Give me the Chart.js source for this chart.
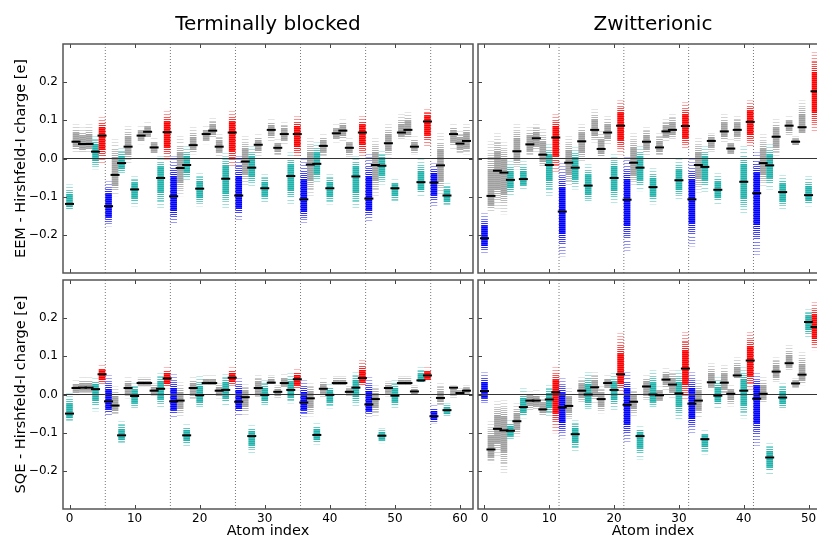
<!DOCTYPE html>
<html lang="en">
<head>
<meta charset="utf-8">
<title>EEM / SQE vs Hirshfeld-I charges</title>
<script src="https://cdn.jsdelivr.net/npm/chart.js@4.4.0/dist/chart.umd.min.js"></script>
<style>
html, body { margin:0; padding:0; background:#fff; overflow:hidden; }
#fig { position:relative; width:817px; height:540px; overflow:hidden; }
#fig canvas { position:absolute; }
</style>
</head>
<body>
<div id="fig">
	<canvas id="eemTb" width="474" height="274" style="left:0;top:0"></canvas>
	<canvas id="sqeTb" width="474" height="264" style="left:0;top:276px"></canvas>
	<canvas id="eemZw" width="352" height="274" style="left:477px;top:0"></canvas>
	<canvas id="sqeZw" width="352" height="264" style="left:477px;top:276px"></canvas>
</div>
<script>
// atom type per index: G = grey, T = teal, R = red, B = blue
var tbTypes = 'TGGGTRBGTGTGGGTRBGTGTGGGTRBGTGTGGGTRBGTGTGGGTRBGTGTGGGTRBGTGGG'.split('');
var zwTypes = 'BGGGTGTGGGTRBGTGTGGGTRBGTGTGGGTRBGTGTGGGTRBGTGTGGGTR'.split('');

var tbTicks = [0, 10, 20, 30, 40, 50, 60];
var zwTicks = [0, 10, 20, 30, 40, 50];
var yTicks = [-0.2, -0.1, 0.0, 0.1, 0.2];
var tbDividers = [5.5, 15.5, 25.5, 35.5, 45.5, 55.5];
var zwDividers = [11.5, 21.5, 31.5, 41.5];

// Terminally blocked, EEM
var eemTbMean = [-0.119, 0.044, 0.038, 0.038, 0.018, 0.060, -0.125, -0.043, -0.012, 0.031,
	-0.081, 0.060, 0.070, 0.029, -0.051, 0.069, -0.099, -0.025, -0.017, 0.035,
	-0.079, 0.064, 0.073, 0.031, -0.053, 0.068, -0.097, -0.008, -0.024, 0.036,
	-0.078, 0.075, 0.028, 0.064, -0.046, 0.064, -0.107, -0.016, -0.014, 0.033,
	-0.078, 0.066, 0.073, 0.028, -0.047, 0.068, -0.105, -0.017, -0.019, 0.040,
	-0.078, 0.068, 0.075, 0.031, -0.062, 0.097, -0.063, -0.018, -0.097, 0.064,
	0.039, 0.046];
var eemTbHi = [-0.068, 0.090, 0.082, 0.090, 0.060, 0.110, -0.059, 0.050, 0.027, 0.086,
	-0.046, 0.086, 0.095, 0.055, 0.007, 0.125, 0.007, 0.060, 0.033, 0.082,
	-0.037, 0.086, 0.107, 0.064, 0.014, 0.125, 0.007, 0.060, 0.033, 0.064,
	-0.041, 0.104, 0.051, 0.095, 0.016, 0.112, -0.002, 0.055, 0.042, 0.064,
	-0.041, 0.090, 0.104, 0.055, 0.007, 0.112, 0.011, 0.055, 0.020, 0.090,
	-0.054, 0.117, 0.121, 0.060, -0.002, 0.130, -0.011, 0.068, -0.063, 0.090,
	0.073, 0.090];
var eemTbLo = [-0.136, 0.016, 0.014, 0.016, -0.028, -0.015, -0.177, -0.098, -0.041, -0.011,
	-0.125, 0.038, 0.051, 0.007, -0.129, -0.006, -0.173, -0.098, -0.059, 0.011,
	-0.125, 0.038, 0.055, 0.007, -0.129, -0.024, -0.160, -0.072, -0.072, 0.007,
	-0.116, 0.046, 0.007, 0.038, -0.120, -0.002, -0.168, -0.098, -0.063, 0.003,
	-0.120, 0.042, 0.046, 0.003, -0.133, 0.003, -0.164, -0.098, -0.068, 0.003,
	-0.116, 0.051, 0.051, 0.011, -0.098, 0.029, -0.125, -0.098, -0.125, 0.025,
	0.011, 0.011];

// Terminally blocked, SQE
var sqeTbMean = [-0.050, 0.017, 0.018, 0.018, 0.014, 0.053, -0.018, -0.029, -0.107, 0.017,
	-0.004, 0.030, 0.030, 0.010, 0.015, 0.042, -0.018, -0.016, -0.107, 0.017,
	-0.002, 0.030, 0.030, 0.010, 0.012, 0.044, -0.019, -0.007, -0.109, 0.017,
	-0.001, 0.031, 0.007, 0.030, 0.012, 0.040, -0.021, -0.010, -0.106, 0.015,
	-0.001, 0.030, 0.030, 0.007, 0.018, 0.043, -0.026, -0.012, -0.108, 0.017,
	-0.003, 0.030, 0.030, 0.008, 0.037, 0.050, -0.057, -0.009, -0.041, 0.018,
	0.004, 0.010];
var sqeTbHi = [0.005, 0.038, 0.045, 0.045, 0.043, 0.077, 0.051, 0.021, -0.070, 0.047,
	0.030, 0.045, 0.045, 0.030, 0.057, 0.073, 0.054, 0.034, -0.077, 0.047,
	0.049, 0.051, 0.051, 0.030, 0.054, 0.073, 0.043, 0.027, -0.079, 0.051,
	0.038, 0.051, 0.025, 0.054, 0.056, 0.066, 0.038, 0.030, -0.075, 0.043,
	0.028, 0.049, 0.049, 0.023, 0.060, 0.090, 0.047, 0.025, -0.088, 0.036,
	0.038, 0.049, 0.049, 0.025, 0.073, 0.073, -0.027, 0.030, -0.023, 0.025,
	0.017, 0.025];
var sqeTbLo = [-0.070, -0.001, 0.003, 0.003, -0.044, 0.025, -0.057, -0.053, -0.127, -0.010,
	-0.038, 0.021, 0.021, -0.005, -0.036, 0.017, -0.059, -0.057, -0.136, -0.014,
	-0.036, 0.025, 0.025, -0.010, -0.030, 0.021, -0.053, -0.057, -0.153, -0.010,
	-0.031, 0.025, -0.010, 0.017, -0.023, 0.012, -0.057, -0.057, -0.131, -0.010,
	-0.036, 0.023, 0.023, -0.005, -0.030, 0.021, -0.057, -0.057, -0.127, -0.005,
	-0.036, 0.021, 0.021, -0.001, 0.030, 0.034, -0.075, -0.031, -0.056, -0.010,
	-0.001, 0.002];

// Zwitterionic, EEM
var eemZwMean = [-0.209, -0.098, -0.032, -0.037, -0.056, 0.019, -0.054, 0.037, 0.053, 0.010,
	-0.017, 0.055, -0.139, -0.011, -0.024, 0.045, -0.071, 0.075, 0.025, 0.068,
	-0.051, 0.086, -0.108, -0.011, -0.024, 0.044, -0.075, 0.029, 0.071, 0.075,
	-0.057, 0.085, -0.107, -0.017, -0.022, 0.046, -0.082, 0.071, 0.026, 0.075,
	-0.061, 0.096, -0.091, -0.012, -0.018, 0.057, -0.088, 0.086, 0.044, 0.082,
	-0.096, 0.176];
var eemZwHi = [-0.142, 0.046, 0.068, 0.042, -0.006, 0.090, -0.006, 0.082, 0.090, 0.077,
	0.038, 0.117, -0.011, 0.060, 0.029, 0.090, -0.015, 0.130, 0.073, 0.112,
	0.011, 0.152, 0.003, 0.068, 0.033, 0.082, -0.024, 0.068, 0.104, 0.117,
	0.000, 0.147, -0.002, 0.055, 0.033, 0.068, -0.037, 0.117, 0.051, 0.112,
	0.033, 0.152, 0.016, 0.064, 0.038, 0.104, -0.044, 0.112, 0.060, 0.152,
	-0.046, 0.279];
var eemZwLo = [-0.247, -0.142, -0.133, -0.146, -0.098, -0.028, -0.081, 0.007, 0.016, -0.024,
	-0.098, -0.037, -0.256, -0.072, -0.081, -0.011, -0.116, 0.042, -0.002, 0.038,
	-0.116, 0.011, -0.243, -0.072, -0.085, 0.007, -0.120, 0.007, 0.046, 0.051,
	-0.107, 0.025, -0.230, -0.089, -0.089, 0.016, -0.120, 0.042, 0.007, 0.046,
	-0.146, 0.029, -0.252, -0.072, -0.081, 0.007, -0.133, 0.060, 0.029, 0.060,
	-0.125, 0.068];

// Zwitterionic, SQE
var sqeZwMean = [0.009, -0.144, -0.090, -0.094, -0.095, -0.070, -0.033, -0.016, -0.016, -0.039,
	-0.013, 0.006, -0.034, -0.030, -0.104, 0.010, 0.000, 0.019, -0.012, 0.030,
	0.012, 0.053, -0.027, -0.019, -0.109, 0.021, 0.000, -0.002, 0.039, 0.026,
	0.003, 0.068, -0.024, -0.016, -0.117, 0.032, -0.003, 0.031, 0.002, 0.050,
	0.010, 0.089, -0.011, 0.002, -0.165, 0.060, -0.008, 0.082, 0.029, 0.052,
	0.190, 0.177];
var sqeZwHi = [0.060, -0.070, -0.018, -0.014, -0.066, -0.023, 0.017, 0.008, 0.012, -0.005,
	0.025, 0.073, 0.043, 0.017, -0.066, 0.047, 0.060, 0.060, 0.021, 0.051,
	0.056, 0.160, 0.060, 0.017, -0.083, 0.051, 0.064, 0.021, 0.069, 0.064,
	0.064, 0.164, 0.060, 0.038, -0.092, 0.082, 0.047, 0.077, 0.025, 0.097,
	0.073, 0.164, 0.056, 0.047, -0.127, 0.097, 0.030, 0.130, 0.043, 0.112,
	0.225, 0.243];
var sqeZwLo = [-0.023, -0.179, -0.162, -0.205, -0.118, -0.110, -0.062, -0.044, -0.040, -0.057,
	-0.057, -0.101, -0.114, -0.066, -0.149, -0.023, -0.040, -0.023, -0.049, 0.012,
	-0.040, 0.003, -0.127, -0.057, -0.170, -0.018, -0.036, -0.023, 0.012, -0.010,
	-0.066, -0.014, -0.101, -0.062, -0.157, 0.012, -0.036, -0.001, -0.031, 0.038,
	-0.062, 0.012, -0.136, -0.023, -0.210, 0.034, -0.040, 0.064, 0.017, 0.025,
	0.147, 0.117];

Chart.defaults.font.family = "'DejaVu Sans', sans-serif";
Chart.defaults.color = '#000';

var atomRgb = { G: '135,135,135', T: '32,178,170', R: '255,0,0', B: '0,0,255' };
var atomAlpha = { G: 0.8, T: 1, R: 1, B: 1 };

// striped fill for one atom: dense around the mean, thinner dashes in the tails
function cloudFill(c, p) {
	var chart = c.chart, i = c.dataIndex;
	var ys = chart.scales.y;
	if (!ys || i === undefined || c.type !== 'data') return 'rgba(0,0,0,0)';
	var t = p.types[i];
	var top = Math.round(ys.getPixelForValue(p.hi[i]));
	var bot = Math.round(ys.getPixelForValue(p.lo[i]));
	var mid = ys.getPixelForValue(p.mean[i]);
	var cv = document.createElement('canvas');
	cv.width = 1;
	cv.height = chart.height;
	var g = cv.getContext('2d');
	for (var y = top; y <= bot; y++) {
		var d = y < mid ? (mid - y) / Math.max(mid - top, 1) : (y - mid) / Math.max(bot - mid, 1);
		var k = y - top;
		var a;
		if (d < 0.5) {
			a = atomAlpha[t] * (k % 2 ? 0.8 : 1);
		} else if (d < 0.75) {
			if (k % 2) continue;
			a = atomAlpha[t] * (0.95 - (d - 0.5) * 1.4);
		} else {
			if (k % 3) continue;
			a = atomAlpha[t] * Math.max(0.25, 0.55 - (d - 0.75) * 1.1);
		}
		g.fillStyle = 'rgba(' + atomRgb[t] + ',' + a.toFixed(3) + ')';
		g.fillRect(0, y, 1, 1);
	}
	return chart.ctx.createPattern(cv, 'repeat');
}

// box round the axes with inward ticks on all four sides
var framePlugin = {
	id: 'frame',
	afterDatasetsDraw: function (chart, args, opts) {
		var ctx = chart.ctx, a = chart.chartArea, x = chart.scales.x, y = chart.scales.y;
		ctx.save();
		ctx.strokeStyle = '#444';
		ctx.lineWidth = 1;
		ctx.beginPath();
		opts.xTicks.forEach(function (v) {
			var px = Math.round(x.getPixelForValue(v)) + 0.5;
			ctx.moveTo(px, a.bottom); ctx.lineTo(px, a.bottom - 4);
			ctx.moveTo(px, a.top); ctx.lineTo(px, a.top + 4);
		});
		opts.yTicks.forEach(function (v) {
			var py = Math.round(y.getPixelForValue(v)) + 0.5;
			ctx.moveTo(a.left, py); ctx.lineTo(a.left + 4, py);
			ctx.moveTo(a.right, py); ctx.lineTo(a.right - 4, py);
		});
		ctx.stroke();
		ctx.strokeStyle = '#555';
		ctx.lineWidth = 1.5;
		ctx.strokeRect(a.left, a.top, a.width, a.height);
		ctx.restore();
	}
};

function fmtY(v) {
	return (v < 0 ? '\u2212' : '') + Math.abs(v).toFixed(1);
}

// keep the plot box where the layout padding puts it
function noScalePadding(s) {
	s.paddingTop = 0;
	s.paddingBottom = 0;
	s.paddingLeft = 0;
	s.paddingRight = 0;
}

function makePanel(id, p) {
	var datasets = [];
	datasets.push({
		type: 'scatter',
		data: p.mean.map(function (m, i) { return { x: i, y: m }; }),
		pointStyle: 'line',
		pointRadius: 4.5,
		pointHoverRadius: 4.5,
		pointBorderColor: '#000',
		pointBorderWidth: 2,
		showLine: false,
		order: 0
	});
	datasets.push({
		type: 'line',
		data: [{ x: p.xMin, y: 0 }, { x: p.xMax, y: 0 }],
		borderColor: '#333',
		borderWidth: 1.2,
		pointRadius: 0,
		order: 1
	});
	datasets.push({
		type: 'bar',
		data: p.mean.map(function (m, i) { return { x: i, y: [p.lo[i], p.hi[i]] }; }),
		backgroundColor: function (c) { return cloudFill(c, p); },
		borderWidth: 0,
		barThickness: 6,
		order: 3
	});
	p.dividers.forEach(function (d) {
		datasets.push({
			type: 'line',
			data: [{ x: d, y: -0.3 }, { x: d, y: 0.3 }],
			borderColor: '#777',
			borderWidth: 1,
			borderDash: [1, 2],
			pointRadius: 0,
			order: 4
		});
	});

	return new Chart(document.getElementById(id), {
		type: 'bar',
		data: { datasets: datasets },
		options: {
			responsive: false,
			animation: false,
			events: [],
			layout: { padding: p.padding, autoPadding: false },
			scales: {
				x: {
					type: 'linear', min: p.xMin, max: p.xMax, offset: false,
					display: p.showX,
					grid: { display: false, drawTicks: false },
					border: { display: false },
					afterBuildTicks: function (s) { s.ticks = p.xTicks.map(function (v) { return { value: v }; }); },
					afterFit: function (s) { s.height = p.showX ? 31 : 0; noScalePadding(s); },
					ticks: { font: { size: 12 }, padding: 3, maxRotation: 0, autoSkip: false,
						callback: function (v) { return String(v); } },
					title: { display: true, text: 'Atom index', font: { size: 14.5 }, padding: { top: 0, bottom: 0 } }
				},
				y: {
					type: 'linear', min: -0.3, max: 0.3,
					display: p.showY,
					grid: { display: false, drawTicks: false },
					border: { display: false },
					afterBuildTicks: function (s) { s.ticks = yTicks.map(function (v) { return { value: v }; }); },
					afterFit: function (s) { s.width = p.showY ? 63 : 0; noScalePadding(s); },
					ticks: { font: { size: 12 }, padding: 5, callback: fmtY },
					title: { display: true, text: p.yLabel, font: { size: 14.5 }, padding: { top: 13, bottom: 0 } }
				}
			},
			plugins: {
				legend: { display: false },
				tooltip: { enabled: false },
				title: { display: !!p.title, text: p.title, fullSize: false,
					font: { size: 20, weight: 'normal' }, padding: { top: 13, bottom: 7 } },
				frame: { xTicks: p.xTicks, yTicks: yTicks }
			}
		},
		plugins: [framePlugin]
	});
}

makePanel('eemTb', { types: tbTypes, mean: eemTbMean, lo: eemTbLo, hi: eemTbHi,
	xMin: -1, xMax: 62, xTicks: tbTicks, dividers: tbDividers,
	showX: false, showY: true, yLabel: 'EEM - Hirshfeld-I charge [e]', title: 'Terminally blocked',
	padding: { left: 0, right: 1, top: 0, bottom: 1 } });
makePanel('sqeTb', { types: tbTypes, mean: sqeTbMean, lo: sqeTbLo, hi: sqeTbHi,
	xMin: -1, xMax: 62, xTicks: tbTicks, dividers: tbDividers,
	showX: true, showY: true, yLabel: 'SQE - Hirshfeld-I charge [e]', title: '',
	padding: { left: 0, right: 1, top: 4, bottom: 0 } });
makePanel('eemZw', { types: zwTypes, mean: eemZwMean, lo: eemZwLo, hi: eemZwHi,
	xMin: -1, xMax: 53, xTicks: zwTicks, dividers: zwDividers,
	showX: false, showY: false, yLabel: '', title: 'Zwitterionic',
	padding: { left: 1, right: 1, top: 0, bottom: 1 } });
makePanel('sqeZw', { types: zwTypes, mean: sqeZwMean, lo: sqeZwLo, hi: sqeZwHi,
	xMin: -1, xMax: 53, xTicks: zwTicks, dividers: zwDividers,
	showX: true, showY: false, yLabel: '', title: '',
	padding: { left: 1, right: 1, top: 4, bottom: 0 } });
</script>
</body>
</html>
